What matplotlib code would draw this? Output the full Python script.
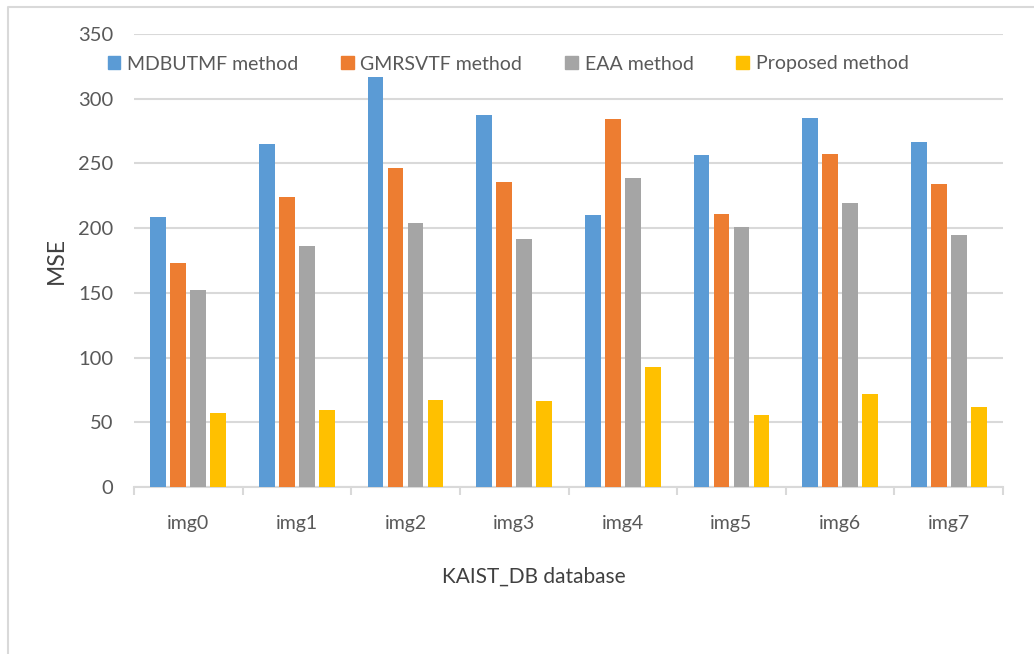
import matplotlib.pyplot as plt
from matplotlib.lines import Line2D
from matplotlib.patches import Patch
import numpy as np

plt.rcParams["font.family"] = ["Lato", "DejaVu Sans"]

categories = ["img0", "img1", "img2", "img3", "img4", "img5", "img6", "img7"]
mdbutmf = [208.5, 265, 316.8, 287.6, 210, 256.6, 285.3, 266.9]
gmrsvtf = [173.4, 224, 246.8, 235.7, 284.5, 210.9, 257.4, 233.9]
eaa = [152.5, 186.3, 203.9, 191.7, 238.5, 200.5, 219.1, 194.8]
proposed = [56.8, 59.7, 67.2, 66.2, 92.8, 55.6, 71.8, 61.5]

series = [
    ("MDBUTMF method", mdbutmf, "#5B9BD5"),
    ("GMRSVTF method", gmrsvtf, "#ED7D31"),
    ("EAA method", eaa, "#A5A5A5"),
    ("Proposed method", proposed, "#FFC000"),
]

W, H = 1034, 654
fig = plt.figure(figsize=(W / 100, H / 100), dpi=100)
ax = fig.add_axes([134 / W, 1 - 487 / H, 869 / W, (487 - 34) / H])

x = np.arange(len(categories))
step = 0.184
width = 0.145
for i, (name, vals, color) in enumerate(series):
    ax.bar(x + (i - 1.5) * step, vals, width, color=color, label=name, zorder=3)

ax.set_xlim(-0.5, len(categories) - 0.5)
ax.set_ylim(0, 350)
ax.set_yticks(range(0, 351, 50))
ax.yaxis.grid(True, color="#D9D9D9", linewidth=1.5, zorder=0)
ax.set_axisbelow(True)
for s in ["top", "right", "left"]:
    ax.spines[s].set_visible(False)
ax.spines["bottom"].set_color("#D9D9D9")
ax.spines["bottom"].set_linewidth(1.5)

ax.set_xticks(x)
ax.set_xticklabels(categories)
ax.set_xticks(np.arange(-0.5, len(categories)), minor=True)
ax.tick_params(axis="x", which="major", length=0, pad=20, labelsize=14, labelcolor="#595959")
ax.tick_params(axis="x", which="minor", length=6, width=1.5, color="#D9D9D9")
ax.tick_params(axis="y", length=0, pad=15, labelsize=14.5, labelcolor="#595959")

fig.text(56 / W, 1 - 260 / H, "MSE", rotation=90, ha="center", va="center",
         fontsize=16.5, color="#404040")
fig.text(534 / W, 1 - 577 / H, "KAIST_DB database", ha="center", va="center",
         fontsize=15, color="#404040")

handles = [Patch(color=c, label=n) for n, _, c in series]
fig.legend(handles=handles, loc="center", bbox_to_anchor=(508 / W, 1 - 64 / H),
           ncol=4, frameon=False, fontsize=14, handlelength=0.65, handleheight=0.65,
           handletextpad=0.35, columnspacing=2.2, labelcolor="#595959")

# chart frame
fig.add_artist(Line2D([8 / W, 8 / W, 1.0], [0.0, 1 - 7 / H, 1 - 7 / H],
                      transform=fig.transFigure, color="#D9D9D9", linewidth=1.5))

fig.savefig("out.png", dpi=100)
